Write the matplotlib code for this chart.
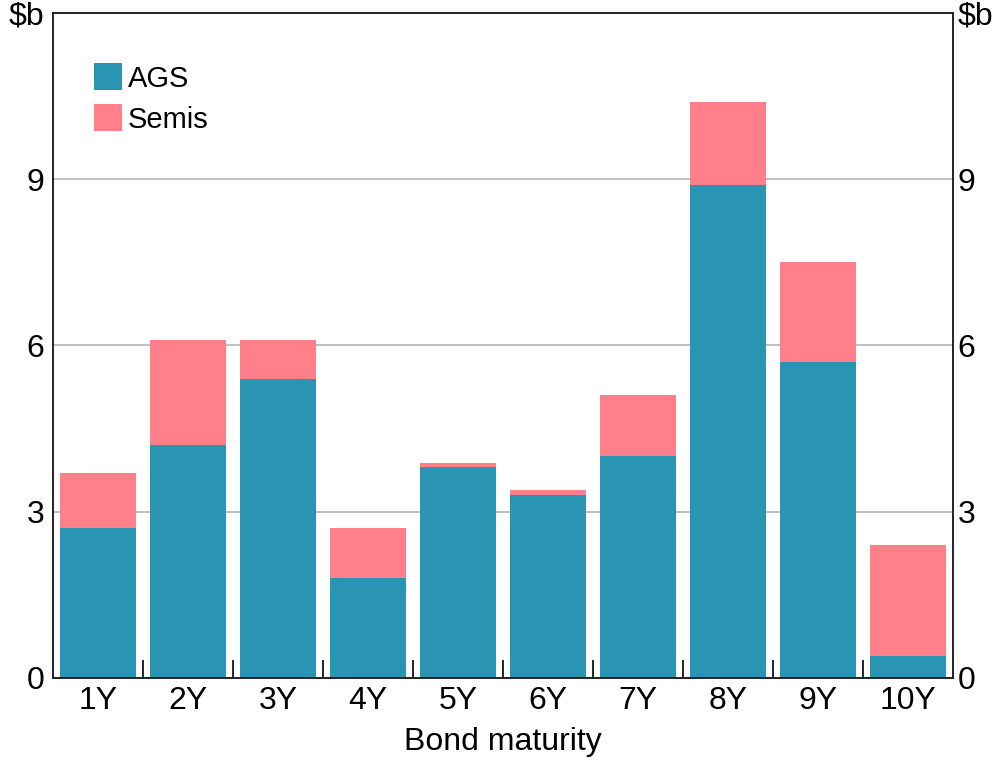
import matplotlib.pyplot as plt
import numpy as np

plt.rcParams['font.family'] = ['Liberation Sans', 'DejaVu Sans']

maturities = ['1Y', '2Y', '3Y', '4Y', '5Y', '6Y', '7Y', '8Y', '9Y', '10Y']
ags = [2.7, 4.2, 5.4, 1.8, 3.8, 3.3, 4.0, 8.9, 5.7, 0.4]
semis = [1.0, 1.9, 0.7, 0.9, 0.07, 0.1, 1.1, 1.5, 1.8, 2.0]

c_ags = '#2a94b3'
c_semis = '#ff808a'
fs = 23

fig = plt.figure(figsize=(9.96, 7.64), dpi=100)
ax = fig.add_axes([0.053, 0.1126, 0.904, 0.8705])
x = np.arange(len(maturities))
ax.bar(x, ags, width=0.84, color=c_ags, label='AGS', zorder=2)
ax.bar(x, semis, width=0.84, bottom=ags, color=c_semis, label='Semis', zorder=2)

ax.set_xlim(-0.5, len(maturities) - 0.5)
ax.set_ylim(0, 12)
yt = [0, 3, 6, 9, 12]
ylab = ['0', '3', '6', '9', '$b']
ax.set_yticks(yt)
ax.set_yticklabels(ylab)
for y in [3, 6, 9]:
    ax.axhline(y, color='#b4b4b4', lw=1.2, zorder=1)

ax.set_xticks(x)
ax.set_xticklabels(maturities)
ax.set_xticks(np.arange(0.5, len(maturities) - 1, 1), minor=True)
ax.tick_params(axis='x', which='major', length=0, labelsize=fs, pad=6)
ax.tick_params(axis='x', which='minor', direction='in', length=13, width=1.2)
ax.tick_params(axis='y', length=0, labelsize=fs, pad=6)
ax.set_xlabel('Bond maturity', fontsize=fs, labelpad=8)

ax2 = ax.twinx()
ax2.set_ylim(0, 12)
ax2.set_yticks(yt)
ax2.set_yticklabels(ylab)
ax2.tick_params(axis='y', length=0, labelsize=fs, pad=3)

for a in (ax, ax2):
    for s in a.spines.values():
        s.set_linewidth(1.2)
        s.set_color('#222222')

ax.legend(loc='upper left', bbox_to_anchor=(0.023, 0.955), frameon=False,
          fontsize=21, handlelength=0.95, handleheight=1.05, handletextpad=0.2,
          labelspacing=0.4, borderpad=0.2)

plt.savefig('out.png', dpi=100)
